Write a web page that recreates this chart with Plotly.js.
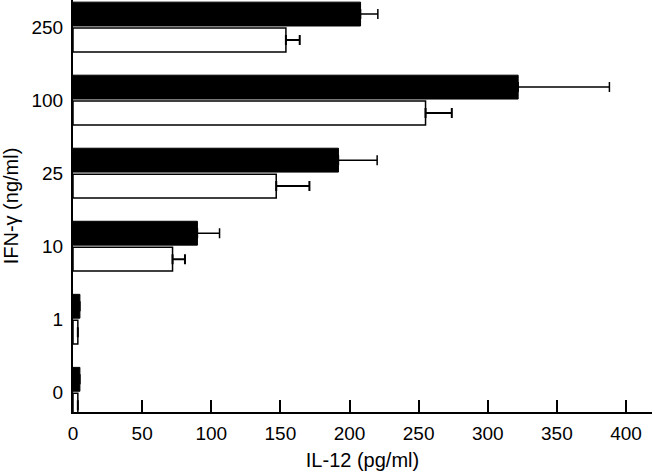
<!DOCTYPE html>
<html>
<head>
<meta charset="utf-8">
<script src="https://cdn.plot.ly/plotly-3.0.1.min.js"></script>
<style>
  html, body { margin: 0; padding: 0; background: #fff; }
  #graph { width: 652px; height: 475px; }
</style>
</head>
<body>
<div id="graph"></div>
<script>
// IFN-gamma doses (ng/ml), bottom to top
var doses = ['0', '1', '10', '25', '100', '250'];

// IL-12 (pg/ml)
var openVals = [3.5, 3.5, 72, 147, 255, 154];
var openErr = [0, 0, 9, 24, 19, 10];
var filledVals = [5, 5, 90, 192, 322, 208];
var filledErr = [0, 0, 16, 28, 66, 12.5];

var zeros = [0, 0, 0, 0, 0, 0];

var openBars = {
    type: 'bar',
    orientation: 'h',
    y: doses,
    x: openVals,
    name: 'open',
    marker: { color: '#ffffff', line: { color: '#000000', width: 1.5 } },
    error_x: { type: 'data', symmetric: false, array: openErr, arrayminus: zeros,
               color: '#000000', thickness: 2, width: 5 }
};
var filledBars = {
    type: 'bar',
    orientation: 'h',
    y: doses,
    x: filledVals,
    name: 'filled',
    marker: { color: '#000000', line: { color: '#000000', width: 1 } },
    error_x: { type: 'data', symmetric: false, array: filledErr, arrayminus: zeros,
               color: '#000000', thickness: 1.5, width: 5 }
};

var data = [openBars, filledBars];

var layout = {
    width: 652,
    height: 475,
    margin: { l: 73, r: 0, t: 0, b: 63 },
    barmode: 'group',
    bargap: 0.29,
    bargroupgap: 0.08,
    showlegend: false,
    paper_bgcolor: '#ffffff',
    plot_bgcolor: '#ffffff',
    font: { family: 'Liberation Sans, Arial, sans-serif', size: 19, color: '#000000' },
    xaxis: {
        title: { text: 'IL-12 (pg/ml)', standoff: 10, font: { size: 20 } },
        range: [0, 418.8],
        tickvals: [0, 50, 100, 150, 200, 250, 300, 350, 400],
        tickfont: { size: 19 },
        showgrid: false,
        zeroline: false,
        showline: true,
        linecolor: '#000000',
        linewidth: 2,
        ticks: 'inside',
        ticklen: 12,
        tickwidth: 2,
        tickcolor: '#000000',
        ticklabelstandoff: 3
    },
    yaxis: {
        title: { text: 'IFN-γ (ng/ml)', standoff: 8, font: { size: 20 } },
        type: 'category',
        range: [-0.27, 5.37],
        tickfont: { size: 19 },
        showgrid: false,
        zeroline: false,
        showline: true,
        linecolor: '#000000',
        linewidth: 2,
        ticks: '',
        ticklabelstandoff: 4
    }
};

Plotly.newPlot('graph', data, layout, { displayModeBar: false, staticPlot: true });
</script>
</body>
</html>
